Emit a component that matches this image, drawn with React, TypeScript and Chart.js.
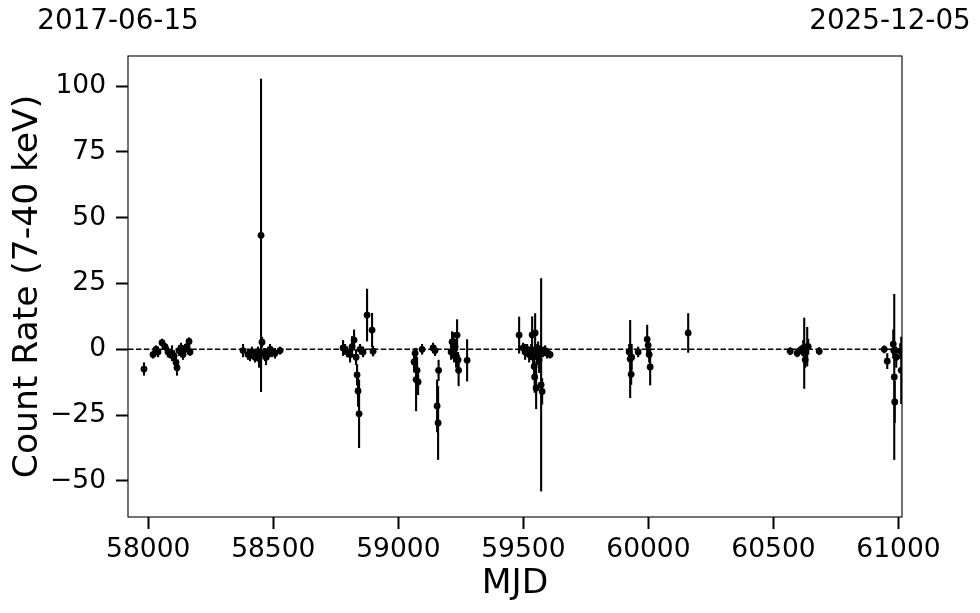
import React, { useEffect, useRef } from "react";
import { Chart, registerables } from "chart.js";

Chart.register(...registerables);

// MJD of each observation
const mjd: number[] = [
  57983, 58019, 58031, 58039, 58055, 58067, 58079, 58087, 58095, 58103, 58111, 58115, 58123, 58131, 58139, 58147, 58155, 58163, 58167,
  58379, 58399, 58407, 58415, 58427, 58435, 58439, 58443, 58451, 58455, 58463, 58467, 58471, 58479, 58487, 58495, 58507, 58527,
  58779, 58787, 58795, 58807, 58815, 58823, 58831, 58835, 58839, 58843, 58847, 58859, 58875, 58895, 58899,
  59063, 59067, 59071, 59075, 59079, 59095, 59139, 59147, 59155, 59159, 59161, 59211, 59215, 59219, 59221, 59223, 59227, 59231, 59235, 59239, 59241, 59275,
  59483, 59499, 59507, 59515, 59523, 59531, 59535, 59539, 59543, 59545, 59547, 59551, 59555, 59559, 59563, 59567, 59571, 59575, 59579, 59587, 59595, 59607,
  59923, 59927, 59931, 59933, 59959, 59995, 59999, 60003, 60007, 60159,
  60567, 60595, 60607, 60619, 60623, 60627, 60635, 60639, 60683,
  60943, 60955, 60979, 60981, 60983, 60985, 60991, 61007, 61011,
];

// Count rate (7-40 keV)
const rate: number[] = [
  -7.5, -2, 0, -1, 2.5, 1, -1, -2, -1.5, -2.5, -5, -7, -0.5, 0.5, -2, 0, 1, 3, -1,
  -0.5, -2, -2.5, -1, -3, -2, -1, -3.5, 43.3, 2.7, -1.5, -2, -3, -2, 0, -1, -1.5, -0.5,
  0.5, 0, -1, -2, 1, 3.5, -3, -9.7, -15.8, -24.5, 0, -1, 13, 7.3, -0.7,
  -4.8, -1.5, -11.5, -8, -12.4, 0, 0.5, -0.5, -21.5, -28, -8, -1, 2.8, -0.5, 1.5, -2, 1, -3, 5.4, -4, -8, -4.2,
  5.4, 0.5, -1, 0, -2, -1, 5.5, -3, -6.5, -10.5, 6.2, -14.7, -2, 0, -4, -1.5, -13.5, -16, -1, -0.5, -1.5, -2,
  -1, -3.7, -9.5, -3, -1, 3.8, 1.5, -2, -6.7, 6.2,
  -0.7, -1.5, -0.3, 0.5, -1.5, -4, 1, 1, -0.7,
  0, -4.5, 2, -0.5, -10.5, -20, -3, -0.7, -8,
];

// 1-sigma uncertainty on the count rate
const rateErr: number[] = [
  2.5, 1.5, 1.5, 2, 1.5, 1.5, 2, 1.5, 3, 2, 3, 3, 2, 2, 2, 2, 1.5, 1.5, 1.5,
  2.5, 2, 2, 2, 2, 2, 2, 3.5, 59.5, 2, 2, 2.5, 3, 2, 2, 2, 2, 1.5,
  3, 2, 2, 3, 4, 4, 3, 4, 6, 13, 2, 2, 10, 6.5, 2,
  4, 2, 12, 5, 5, 2, 2, 2, 10, 14, 4, 3, 4, 3, 5, 3, 3, 4, 6, 3, 6, 8,
  7, 2, 3, 2, 3, 3, 7, 4, 5, 6, 7.5, 8, 4, 3, 5, 3, 40.5, 5, 2, 2, 2, 1.5,
  3, 14.8, 4, 5, 2, 5.5, 3, 3, 7, 7.5,
  1.5, 1.5, 1.5, 3, 13.5, 3, 7.5, 3, 1.5,
  1.5, 3, 5.5, 3, 31.5, 8, 4, 3, 12.8,
];

const xTicks: number[] = [58000, 58500, 59000, 59500, 60000, 60500, 61000];
const yTicks: number[] = [-50, -25, 0, 25, 50, 75, 100];
const dateLabels: string[] = ["2017-06-15", "2025-12-05"];

const X_MIN = 57919;
const X_MAX = 61014;
const Y_MIN = -63.7;
const Y_MAX = 111.4;

const FONT = "'DejaVu Sans', sans-serif";

const errorBarPlugin = {
  id: "errorBars",
  beforeDatasetsDraw(chart: any) {
    const { ctx, chartArea, scales } = chart;
    const xs = scales.x;
    const ys = scales.y;
    ctx.save();
    ctx.beginPath();
    ctx.rect(chartArea.left, chartArea.top, chartArea.right - chartArea.left, chartArea.bottom - chartArea.top);
    ctx.clip();
    // zero line
    const y0 = ys.getPixelForValue(0);
    ctx.strokeStyle = "#000";
    ctx.lineWidth = 1.6;
    ctx.setLineDash([5.5, 2.4]);
    ctx.beginPath();
    ctx.moveTo(chartArea.left, y0);
    ctx.lineTo(chartArea.right, y0);
    ctx.stroke();
    ctx.setLineDash([]);
    // error bars
    ctx.lineWidth = 2.1;
    chart.data.datasets[0].data.forEach((d: any) => {
      const px = xs.getPixelForValue(d.x);
      const top = ys.getPixelForValue(d.y + d.err);
      const bot = ys.getPixelForValue(d.y - d.err);
      ctx.beginPath();
      ctx.moveTo(px, top);
      ctx.lineTo(px, bot);
      ctx.stroke();
    });
    ctx.restore();
  },
  afterDraw(chart: any) {
    const { ctx, chartArea } = chart;
    ctx.save();
    ctx.strokeStyle = "#000";
    ctx.lineWidth = 1.1;
    ctx.strokeRect(chartArea.left, chartArea.top, chartArea.right - chartArea.left, chartArea.bottom - chartArea.top);
    ctx.fillStyle = "#000";
    ctx.font = `27.8px ${FONT}`;
    ctx.textAlign = "center";
    ctx.textBaseline = "middle";
    ctx.fillText(dateLabels[0], chartArea.left - 10, 22);
    ctx.fillText(dateLabels[1], chartArea.right - 12, 22);
    ctx.restore();
  },
};

export default function App() {
  const ref = useRef<HTMLCanvasElement | null>(null);
  useEffect(() => {
    document.body.style.margin = "0";
    const canvas = ref.current;
    if (!canvas) return;
    const data = mjd.map((x, i) => ({ x, y: rate[i], err: rateErr[i] }));
    const chart = new Chart(canvas, {
      type: "scatter",
      data: {
        datasets: [
          {
            data,
            backgroundColor: "#000",
            borderColor: "#000",
            borderWidth: 0,
            pointRadius: 3.4,
            pointHoverRadius: 3.4,
          },
        ],
      },
      options: {
        animation: false,
        responsive: false,
        events: [],
        layout: { padding: { top: 56, right: 78, left: 0, bottom: 0 } },
        plugins: { legend: { display: false }, tooltip: { enabled: false } },
        scales: {
          x: {
            type: "linear",
            min: X_MIN,
            max: X_MAX,
            afterBuildTicks: (s: any) => {
              s.ticks = xTicks.map((v) => ({ value: v }));
            },
            afterFit: (s: any) => {
              s.height = 96;
            },
            border: { display: false },
            grid: { drawOnChartArea: false, drawTicks: true, tickLength: 12, tickWidth: 2, tickColor: "#000" },
            ticks: {
              color: "#000",
              font: { family: FONT, size: 26.5 },
              padding: 5,
              maxRotation: 0,
              autoSkip: false,
              callback: (v: any) => String(v),
            },
            title: {
              display: true,
              text: "MJD",
              color: "#000",
              font: { family: FONT, size: 34.5 },
              padding: { top: 0, bottom: 8 },
            },
          },
          y: {
            type: "linear",
            min: Y_MIN,
            max: Y_MAX,
            afterBuildTicks: (s: any) => {
              s.ticks = yTicks.map((v) => ({ value: v }));
            },
            afterFit: (s: any) => {
              s.width = 128;
            },
            border: { display: false },
            grid: { drawOnChartArea: false, drawTicks: true, tickLength: 12, tickWidth: 2, tickColor: "#000" },
            ticks: {
              color: "#000",
              font: { family: FONT, size: 26.5 },
              padding: 10,
              autoSkip: false,
              callback: (v: any) => String(v).replace("-", "\u2212"),
            },
            title: {
              display: true,
              text: "Count Rate (7-40 keV)",
              color: "#000",
              font: { family: FONT, size: 34.5 },
              padding: { top: 7, bottom: 0 },
            },
          },
        },
      },
      plugins: [errorBarPlugin],
    });
    return () => chart.destroy();
  }, []);
  return <canvas ref={ref} width={980} height={613} style={{ display: "block" }} />;
}
